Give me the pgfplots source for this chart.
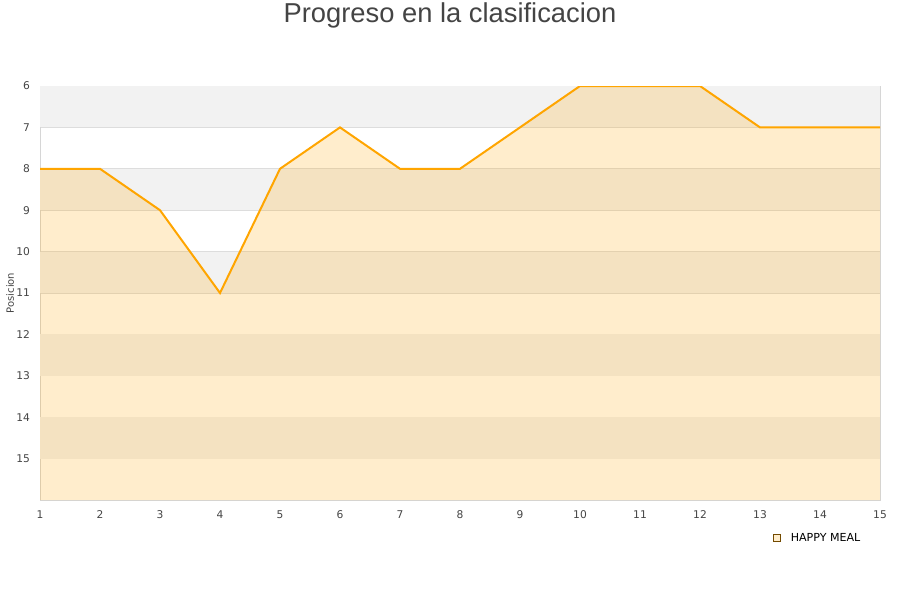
\documentclass[border=0pt]{standalone}
\usepackage{fontspec}
\setmainfont{DejaVu Sans}
\newfontfamily\titlefont{Liberation Sans}
\usepackage{pgfplots}
\pgfplotsset{compat=1.18}
\definecolor{bandgrey}{HTML}{F2F2F2}
\definecolor{gridgrey}{HTML}{DDDDDD}
\definecolor{axisgrey}{HTML}{D6D6D6}
\definecolor{textgrey}{HTML}{444444}
\definecolor{lineorange}{HTML}{FFA500}
\begin{document}
\begin{tikzpicture}
\useasboundingbox (0pt,0pt) rectangle (675pt,450pt);
\node[text=textgrey,font=\titlefont\fontsize{20.5}{24}\selectfont] at (337.5pt,438.5pt) {Progreso en la clasificacion};
\begin{axis}[
  at={(30pt,75pt)}, anchor=south west,
  scale only axis, width=630pt, height=310.5pt,
  xmin=1, xmax=15, ymin=6, ymax=16,
  y dir=reverse,
  xtick={1,...,15}, ytick={6,...,15},
  tick style={draw=none},
  axis line style={draw=axisgrey},
  ymajorgrids, grid style={draw=gridgrey, line width=0.6pt},
  ticklabel style={text=textgrey, font=\fontsize{8}{10}\selectfont},
  /pgf/number format/assume math mode=true,
  xticklabel style={yshift=-4.5pt},
  yticklabel style={xshift=-4pt},
  ylabel={Posicion}, ylabel style={text=textgrey, font=\fontsize{7.5}{9}\selectfont, at={(ticklabel cs:0.5)}, yshift=-5pt},
  legend style={draw=none, fill=none, at={(0.928,-0.092)}, anchor=center,
    font=\fontsize{8.3}{10}\selectfont, legend cell align=left,
    nodes={inner xsep=4pt}},
]
% alternating horizontal bands
\pgfplotsinvokeforeach{6,8,10,12,14}{
  \fill[bandgrey] (axis cs:1,#1) rectangle (axis cs:15,#1+1);
}
% shaded area from the line down to the bottom of the axis
\addplot[draw=none, fill=lineorange, fill opacity=0.2, forget plot]
  coordinates {(1,8) (2,8) (3,9) (4,11) (5,8) (6,7) (7,8) (8,8) (9,7) (10,6) (11,6) (12,6) (13,7) (14,7) (15,7) (15,16) (1,16)} -- cycle;
\addplot[draw=lineorange, line width=1.5pt,
  legend image code/.code={%
    \path[draw=none] (-6.75pt,0pt) -- (2.2pt,0pt);
    \draw[draw=black!55!lineorange, fill=lineorange!20, line width=0.4pt] (-6.75pt,-2.6pt) rectangle (-1.55pt,2.6pt);}]
  coordinates {(1,8) (2,8) (3,9) (4,11) (5,8) (6,7) (7,8) (8,8) (9,7) (10,6) (11,6) (12,6) (13,7) (14,7) (15,7)};
\addlegendentry{HAPPY MEAL}
\end{axis}
\end{tikzpicture}
\end{document}
